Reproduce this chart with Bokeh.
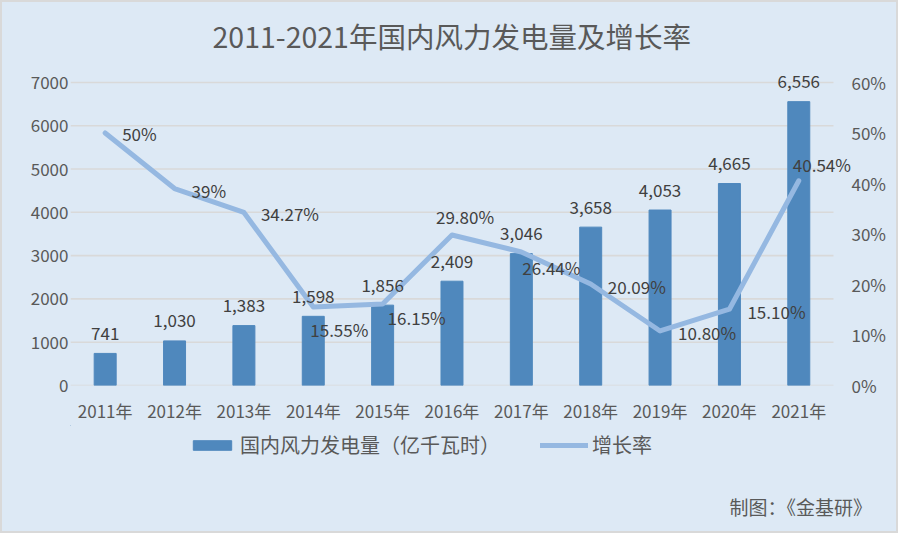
from bokeh.plotting import figure
from bokeh.layouts import column
from bokeh.models import (ColumnDataSource, Range1d, LinearAxis, Title,
                          Legend, LegendItem, FixedTicker, PrintfTickFormatter)
from bokeh.core.properties import value
from bokeh.embed import file_html
from bokeh.resources import INLINE

# ---------------- data ----------------
years = ["2011年", "2012年", "2013年", "2014年", "2015年", "2016年",
         "2017年", "2018年", "2019年", "2020年", "2021年"]
generation = [741, 1030, 1383, 1598, 1856, 2409, 3046, 3658, 4053, 4665, 6556]
growth = [50, 39, 34.27, 15.55, 16.15, 29.80, 26.44, 20.09, 10.80, 15.10, 40.54]
growth_text = ["50%", "39%", "34.27%", "15.55%", "16.15%", "29.80%",
               "26.44%", "20.09%", "10.80%", "15.10%", "40.54%"]
left_ticks = [0, 1000, 2000, 3000, 4000, 5000, 6000, 7000]
right_ticks = [0, 10, 20, 30, 40, 50, 60]
series_names = ["国内风力发电量（亿千瓦时）", "增长率"]
title_text = "2011-2021年国内风力发电量及增长率"
note_text = "制图：《金基研》"

# label placement (style, px)
lab_dx = [17, 17, 17, -3, 5, -16, 1, 17, 18, 18, -6]
lab_dy = [1, 2, 1, 23, 14, -18, 16, 2, 2, 2, -16]

FONT = "Noto Sans CJK SC"
BG = "#dde9f5"
BAR = "#4f88bd"
LINE = "#95b8e1"
GRID = "#d9d9d9"
TXT = "#595959"

idx = list(range(len(years)))
src = ColumnDataSource(dict(
    x=idx, gen=generation, gen_text=[f"{v:,}" for v in generation],
    growth=growth, growth_text=growth_text, dx=lab_dx, dy=lab_dy,
))

p = figure(width=898, height=425, x_range=Range1d(-0.5, 10.76),
           y_range=Range1d(0, 7368), output_backend="svg", toolbar_location=None,
           min_border_left=70, min_border_right=47, min_border_top=66, min_border_bottom=39)
p.extra_y_ranges = {"pct": Range1d(0, 63.16)}
p.background_fill_color = None
p.border_fill_color = None
p.outline_line_color = None

# title
p.title.text = title_text
p.title.align = "left"
p.title.offset = 142
p.title.standoff = 21
p.title.text_font = FONT
p.title.text_font_size = "28.5px"
p.title.text_font_style = "normal"
p.title.text_color = TXT

# axes
p.yaxis.ticker = FixedTicker(ticks=left_ticks)
p.xaxis.ticker = FixedTicker(ticks=idx)
p.xaxis.major_label_overrides = {i: y for i, y in zip(idx, years)}
rax = LinearAxis(y_range_name="pct", ticker=FixedTicker(ticks=right_ticks),
                 formatter=PrintfTickFormatter(format="%d%%"))
p.add_layout(rax, "right")
for ax in [p.yaxis[0], p.xaxis[0], rax]:
    ax.axis_line_color = None
    ax.major_tick_line_color = None
    ax.minor_tick_line_color = None
    ax.major_tick_out = 0
    ax.major_tick_in = 0
    ax.minor_tick_out = 0
    ax.major_label_text_font = FONT
    ax.major_label_text_font_size = "17px"
    ax.major_label_text_color = TXT
p.yaxis[0].major_label_standoff = 2
p.xaxis[0].major_label_standoff = 12
rax.major_label_standoff = 0

p.xgrid.grid_line_color = None
p.ygrid.grid_line_color = None

# gridlines limited to the category band
p.segment(x0=-0.5, x1=10.5, y0=left_ticks, y1=left_ticks,
          line_color=GRID, line_width=1.6)

bars = p.vbar(x="x", top="gen", width=0.317, color=BAR, source=src)
line = p.line(x="x", y="growth", y_range_name="pct", line_width=5, color=LINE,
              line_cap="round", line_join="round", source=src)

p.text(x="x", y="gen", text="gen_text", source=src, text_align="center",
       text_baseline="middle", y_offset=-20, text_font=value(FONT),
       text_font_size="17px", text_color="#404040")
p.text(x="x", y="growth", text="growth_text", source=src, y_range_name="pct",
       text_align="left", text_baseline="middle", x_offset="dx", y_offset="dy",
       text_font=value(FONT), text_font_size="17px", text_color="#404040")

# ---- lower strip: legend + note (data units = page pixels) ----
q = figure(width=898, height=108, x_range=Range1d(70, 851), y_range=Range1d(488, 425),
           output_backend="svg", toolbar_location=None,
           x_axis_location=None, y_axis_location=None,
           min_border_left=70, min_border_right=47, min_border_top=0, min_border_bottom=45)
q.grid.visible = False
q.background_fill_color = None
q.border_fill_color = None
q.outline_line_color = None

# key renderers (zero-size, only used to draw the legend swatches)
kb = q.vbar(x=[0], top=[0], bottom=[0], width=1, color=BAR)
kl = q.line(x=[0, 0], y=[0, 0], line_width=5, color=LINE, line_cap="round")

lg = Legend(items=[LegendItem(label=series_names[0], renderers=[kb]),
                   LegendItem(label=series_names[1], renderers=[kl])],
            orientation="horizontal", location=(118, 29), glyph_width=48,
            glyph_height=12, label_standoff=4, spacing=40, padding=0, margin=0,
            border_line_color=None, background_fill_alpha=0,
            label_text_font=FONT, label_text_font_size="20px", label_text_color=TXT)
q.add_layout(lg)

note = Title(text=note_text, align="left", offset=659, standoff=5,
             text_font=FONT, text_font_size="19px", text_font_style="normal",
             text_color=TXT)
q.add_layout(note, "below")

layout = column(p, q, spacing=0)
layout.styles = {"background-color": BG, "outline": "2px solid #d9d9d9",
                 "outline-offset": "-2px"}

open("out.html", "w").write(file_html(layout, INLINE))
